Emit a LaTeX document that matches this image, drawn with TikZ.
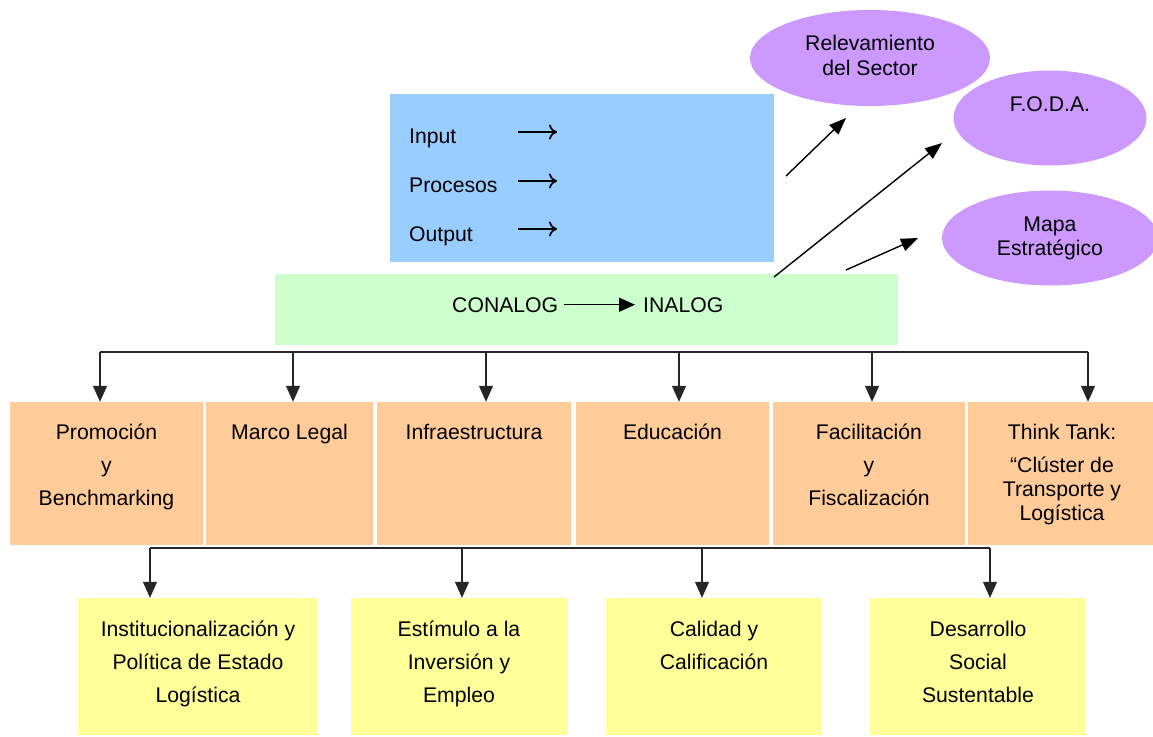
\documentclass[tikz,border=0pt]{standalone}
\usepackage{fontspec}
\setmainfont{Liberation Sans}
\usetikzlibrary{arrows.meta,shapes.geometric}
\definecolor{cblue}{HTML}{99CCFF}
\definecolor{cgreen}{HTML}{CCFFCC}
\definecolor{corange}{HTML}{FFCC99}
\definecolor{cyellow}{HTML}{FFFF99}
\definecolor{cpurple}{HTML}{CC99FF}
\newcommand\fstrut{\rule{0pt}{17pt}}
\begin{document}
\begin{tikzpicture}[x=1pt,y=-1pt,
  box/.style={rectangle, inner sep=0pt, draw=none},
  txt/.style={font=\fontsize{21.2}{33}\selectfont, align=center, inner sep=0pt, anchor=north},
  ltxt/.style={font=\fontsize{21.2}{33}\selectfont, inner sep=0pt, anchor=base west},
  oval/.style={ellipse, fill=cpurple, inner sep=0pt, draw=none},
  bus/.style={line width=1.1pt, draw=black!85},
  conn/.style={line width=1.1pt, draw=black!85, -{Triangle[length=16pt,width=14pt]}},
  diag/.style={line width=1.4pt, draw=black, -{Triangle[length=17pt,width=13pt]}},
  glyph/.style={line width=1.7pt, draw=black, -{To[length=8pt,width=15pt]}}
]
\useasboundingbox (0,0) rectangle (1153,736);
\fill[white] (0,0) rectangle (1153,736);

% ellipses
\node[oval, minimum width=240pt, minimum height=96pt] (e1) at (870,58) {};
\node[txt] (e1t) at (870,33) {\fstrut Relevamiento\\[-8pt]del Sector};
\node[oval, minimum width=193pt, minimum height=95pt] (e2) at (1050,118) {};
\node[txt, anchor=base] (e2t) at (1050,111) {F.O.D.A.};
\node[oval, minimum width=216pt, minimum height=95pt] (e3) at (1050,238) {};
\node[txt] (e3t) at (1050,214) {\fstrut Mapa\\[-9pt]Estratégico};

% blue box
\node[box, fill=cblue, minimum width=384pt, minimum height=168pt] (blue) at (582,178) {};
\node[ltxt] (inp) at (409,143) {Input};
\node[ltxt] (pro) at (409,192) {Procesos};
\node[ltxt] (out) at (409,241) {Output};
\coordinate (ia) at (518,132); \coordinate (ib) at (557,132);
\coordinate (pa) at (518,181); \coordinate (pb) at (557,181);
\coordinate (oa) at (518,229); \coordinate (ob) at (557,229);
\draw[glyph] (ia) -- (ib);
\draw[glyph] (pa) -- (pb);
\draw[glyph] (oa) -- (ob);

% green box
\node[box, fill=cgreen, minimum width=623pt, minimum height=71pt] (green) at (586.5,309.5) {};
\node[ltxt] (con) at (452,312) {CONALOG};
\node[ltxt] (ina) at (643,312) {INALOG};
\draw[line width=1.3pt, -{Triangle[length=16pt,width=14pt]}, shorten <=6pt, shorten >=8pt] (con.east) -- (con.east -| ina.west);

% arrows to ellipses
\coordinate (d1a) at (786,176); \coordinate (d1b) at (846,118);
\coordinate (d2a) at (774,277); \coordinate (d2b) at (942,143);
\coordinate (d3a) at (846,270); \coordinate (d3b) at (918,238);
\draw[diag] (d1a) -- (d1b);
\draw[diag] (d2a) -- (d2b);
\draw[diag] (d3a) -- (d3b);

% orange boxes
\node[box, fill=corange, minimum width=193pt, minimum height=143pt] (o1) at (106.5,473.5) {};
\node[box, fill=corange, minimum width=167pt, minimum height=143pt] (o2) at (289.5,473.5) {};
\node[box, fill=corange, minimum width=194pt, minimum height=143pt] (o3) at (474,473.5) {};
\node[box, fill=corange, minimum width=193pt, minimum height=143pt] (o4) at (672.5,473.5) {};
\node[box, fill=corange, minimum width=192pt, minimum height=143pt] (o5) at (869,473.5) {};
\node[box, fill=corange, minimum width=185pt, minimum height=143pt] (o6) at (1060.5,473.5) {};
\node[txt] (o1t) at (106.5,422) {\fstrut Promoción\\y\\Benchmarking};
\node[txt] (o2t) at (289.5,422) {\fstrut Marco Legal};
\node[txt] (o3t) at (474,422) {\fstrut Infraestructura};
\node[txt] (o4t) at (672.5,422) {\fstrut Educación};
\node[txt] (o5t) at (869,422) {\fstrut Facilitación\\y\\Fiscalización};
\node[txt] (o6t) at (1062,422) {\fstrut Think Tank:\\“Clúster de\\[-9pt]Transporte y\\[-9pt]Logística};

% yellow boxes
\node[box, fill=cyellow, minimum width=240pt, minimum height=137pt] (y1) at (198,666.5) {};
\node[box, fill=cyellow, minimum width=216pt, minimum height=137pt] (y2) at (459,666.5) {};
\node[box, fill=cyellow, minimum width=216pt, minimum height=137pt] (y3) at (714,666.5) {};
\node[box, fill=cyellow, minimum width=216pt, minimum height=137pt] (y4) at (978,666.5) {};
\node[txt] (y1t) at (198,619) {\fstrut Institucionalización y\\Política de Estado\\Logística};
\node[txt] (y2t) at (459,619) {\fstrut Estímulo a la\\Inversión y\\Empleo};
\node[txt] (y3t) at (714,619) {\fstrut Calidad y\\Calificación};
\node[txt] (y4t) at (978,619) {\fstrut Desarrollo\\Social\\Sustentable};

% first level tree
\coordinate (t1) at (100,352); \coordinate (t2) at (293,352);
\coordinate (t3) at (486,352); \coordinate (t4) at (679,352);
\coordinate (t5) at (872,352); \coordinate (t6) at (1088,352);
\draw[bus] (t1) -- (t6);
\draw[conn] (t1) -- (t1 |- o1.north);
\draw[conn] (t2) -- (t2 |- o2.north);
\draw[conn] (t3) -- (t3 |- o3.north);
\draw[conn] (t4) -- (t4 |- o4.north);
\draw[conn] (t5) -- (t5 |- o5.north);
\draw[conn] (t6) -- (t6 |- o6.north);

% second level tree
\coordinate (s1) at (150,548); \coordinate (s2) at (462,548);
\coordinate (s3) at (702,548); \coordinate (s4) at (990,548);
\draw[bus] (s1) -- (s4);
\draw[conn] (s1) -- (s1 |- y1.north);
\draw[conn] (s2) -- (s2 |- y2.north);
\draw[conn] (s3) -- (s3 |- y3.north);
\draw[conn] (s4) -- (s4 |- y4.north);
\end{tikzpicture}
\end{document}
